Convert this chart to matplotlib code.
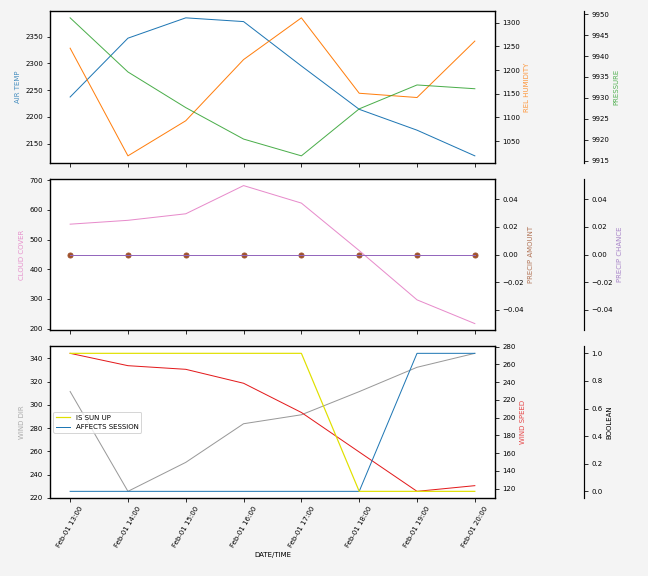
import numpy as np
import pandas as pd
import matplotlib
matplotlib.use("Agg")
import matplotlib.pyplot as plt
import matplotlib.dates as mdates

times = pd.date_range("2024-02-01 13:00", periods=8, freq="h")

air_temp = [2237, 2347, 2385, 2378, 2295, 2214, 2175, 2127]
rel_humidity = [1246, 1019, 1093, 1222, 1310, 1151, 1142, 1261]
pressure = [9949.1, 9936.2, 9927.7, 9920.2, 9916.2, 9927.4, 9933.1, 9932.2]

cloud_cover = [552, 565, 587, 682, 623, 463, 297, 217]
precip_amount = [0, 0, 0, 0, 0, 0, 0, 0]
precip_chance = [0, 0, 0, 0, 0, 0, 0, 0]

wind_dir = [311.5, 225.7, 250.6, 283.8, 291.5, 311.4, 332.3, 344.3]
wind_speed = [272.4, 258.5, 254.4, 238.7, 205.8, 161.3, 117.0, 123.4]
is_sun_up = [1, 1, 1, 1, 1, 0, 0, 0]
affects_session = [0, 0, 0, 0, 0, 0, 1, 1]

plt.rcParams["font.size"] = 7
plt.rcParams["axes.linewidth"] = 1.2

fig, axes = plt.subplots(3, 1, figsize=(9, 8), dpi=72, sharex=True)
fig.patch.set_facecolor("#f4f4f4")
fig.subplots_adjust(left=0.077, right=0.764, top=0.981, bottom=0.135, hspace=0.105)


def add_twins(ax):
    a2 = ax.twinx()
    a3 = ax.twinx()
    a3.spines["right"].set_position(("axes", 1.2))
    a3.set_frame_on(True)
    a3.patch.set_visible(False)
    for sp in a3.spines.values():
        sp.set_visible(False)
    a3.spines["right"].set_visible(True)
    return a2, a3


lw = 1.0

# panel 1
ax = axes[0]
a2, a3 = add_twins(ax)
ax.plot(times, air_temp, color="#1f77b4", lw=lw)
a2.plot(times, rel_humidity, color="#ff7f0e", lw=lw)
a3.plot(times, pressure, color="#2ca02c", lw=lw, alpha=0.85)
ax.set_ylabel("AIR TEMP", color="#1f77b4", alpha=0.8)
a2.set_ylabel("REL HUMIDITY", color="#ff7f0e", alpha=0.8)
a3.set_ylabel("PRESSURE", color="#2ca02c", alpha=0.8)

# panel 2
ax = axes[1]
a2, a3 = add_twins(ax)
ax.plot(times, cloud_cover, color="#e377c2", lw=lw, alpha=0.85)
a2.plot(times, precip_amount, "o", color="#a0522d", ms=5)
a3.plot(times, precip_chance, color="#9467bd", lw=lw)
ax.set_ylabel("CLOUD COVER", color="#e377c2", alpha=0.8)
a2.set_ylabel("PRECIP AMOUNT", color="#a0522d", alpha=0.8)
a3.set_ylabel("PRECIP CHANCE", color="#9467bd", alpha=0.8)

# panel 3
ax = axes[2]
a2, a3 = add_twins(ax)
ax.plot(times, wind_dir, color="#999999", lw=lw)
a2.plot(times, wind_speed, color="#e31a1c", lw=lw)
l_aff, = a3.plot(times, affects_session, color="#1f77b4", lw=lw, label="AFFECTS SESSION")
l_sun, = a3.plot(times, is_sun_up, color="#e0e000", lw=1.2, label="IS SUN UP")
ax.set_ylabel("WIND DIR", color="#999999", alpha=0.8)
a2.set_ylabel("WIND SPEED", color="#e31a1c", alpha=0.8)
a3.set_ylabel("BOOLEAN", color="black")
a3.legend(handles=[l_sun, l_aff], loc="center left")

ax.xaxis.set_major_formatter(mdates.DateFormatter("%b-%d %H:%M"))
for lab in ax.get_xticklabels():
    lab.set_rotation(60)
ax.set_xlabel("DATE/TIME")

fig.savefig("out.png", facecolor=fig.get_facecolor())
